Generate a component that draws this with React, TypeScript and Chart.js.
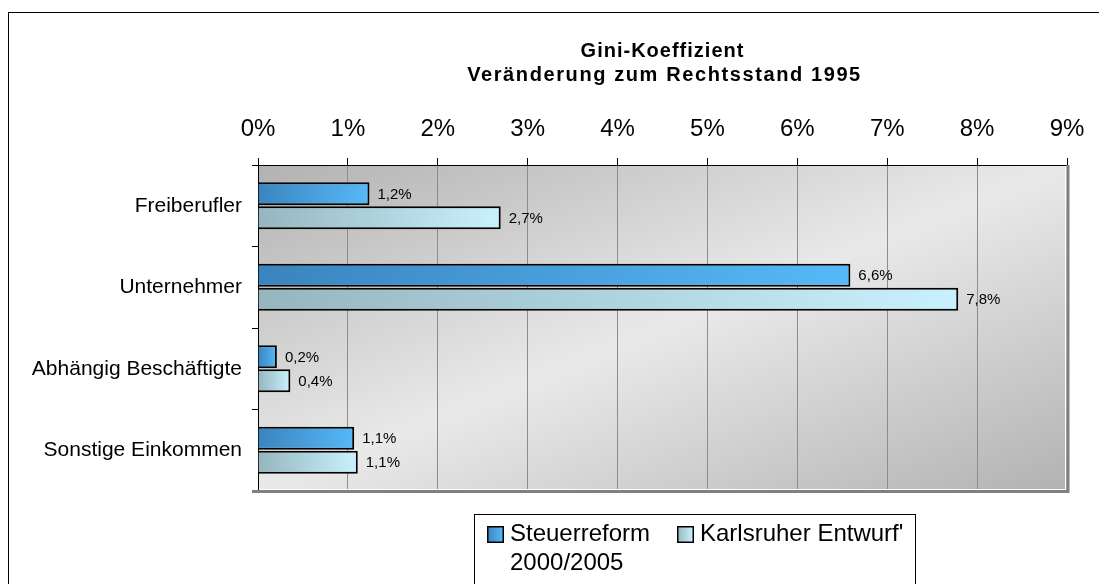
import React, { useEffect, useRef } from "react";
import { Chart, registerables } from "chart.js";

Chart.register(...registerables);

const categories = ["Freiberufler", "Unternehmer", "Abhängig Beschäftigte", "Sonstige Einkommen"];
const steuerreform = [1.24, 6.59, 0.21, 1.07];
const karlsruher = [2.7, 7.79, 0.36, 1.11];
const seriesNames = ["Steuerreform", "Karlsruher Entwurf'"];
const seriesNameLine2 = ["2000/2005", ""];
const titleLines = ["Gini-Koeffizient", "Veränderung zum Rechtsstand 1995"];
const xMin = 0;
const xMax = 9;

const FONT = "'Liberation Sans', Arial, sans-serif";
const darkStops = ["#3a84bf", "#56b9f7"];
const lightStops = ["#95b6bf", "#c9f1fd"];

function barGradient(stops: string[]) {
  return (ctx: any) => {
    const chart = ctx.chart;
    const xs = chart.scales && chart.scales.x;
    if (!chart.chartArea || !xs || typeof ctx.raw !== "number") return stops[1];
    const x0 = xs.getPixelForValue(0);
    const x1 = Math.max(xs.getPixelForValue(ctx.raw), x0 + 1);
    const g = chart.ctx.createLinearGradient(x0, 0, x1, 0);
    g.addColorStop(0, stops[0]);
    g.addColorStop(1, stops[1]);
    return g;
  };
}

const decorPlugin = {
  id: "decor",
  beforeDraw(chart: any) {
    const { ctx, chartArea: a } = chart;
    ctx.save();
    ctx.fillStyle = "#ffffff";
    ctx.fillRect(0, 0, chart.width, chart.height);
    // outer border
    ctx.strokeStyle = "#000";
    ctx.lineWidth = 1;
    ctx.strokeRect(8.5, 12.5, 1300, 1000);
    // plot background diagonal gradient
    const w = a.right - a.left;
    const h = a.bottom - a.top;
    const cx = (a.left + a.right) / 2;
    const cy = (a.top + a.bottom) / 2;
    const k = (w * h) / (w * w + h * h);
    const g = ctx.createLinearGradient(cx - h * k, cy - w * k, cx + h * k, cy + w * k);
    g.addColorStop(0, "#b2b2b2");
    g.addColorStop(0.5, "#e9e9e9");
    g.addColorStop(1, "#b2b2b2");
    ctx.fillStyle = g;
    ctx.fillRect(a.left, a.top, w, h);
    // title
    ctx.fillStyle = "#000";
    ctx.font = `bold 20px ${FONT}`;
    ctx.textAlign = "center";
    ctx.textBaseline = "alphabetic";
    try { (ctx as any).letterSpacing = "1px"; } catch (e) {}
    ctx.fillText(titleLines[0], cx, 57);
    try { (ctx as any).letterSpacing = "1.6px"; } catch (e) {}
    ctx.fillText(titleLines[1], cx + 2, 81);
    try { (ctx as any).letterSpacing = "0px"; } catch (e) {}
    ctx.restore();
  },
  afterDraw(chart: any) {
    const { ctx, chartArea: a } = chart;
    ctx.save();
    // plot shadow border right/bottom
    ctx.strokeStyle = "#ffffff";
    ctx.lineWidth = 1;
    ctx.beginPath();
    ctx.moveTo(a.left + 1, a.bottom - 1.5);
    ctx.lineTo(a.right - 1.5, a.bottom - 1.5);
    ctx.lineTo(a.right - 1.5, a.top + 1);
    ctx.stroke();
    ctx.strokeStyle = "#808080";
    ctx.lineWidth = 3;
    ctx.beginPath();
    ctx.moveTo(a.left - 6, a.bottom + 0.5);
    ctx.lineTo(a.right + 1, a.bottom + 0.5);
    ctx.lineTo(a.right + 1, a.top);
    ctx.stroke();

    // legend
    ctx.strokeStyle = "#000";
    ctx.lineWidth = 1;
    ctx.strokeRect(474.5, 514.5, 441, 200);
    const items = [
      { x: 487, stops: darkStops },
      { x: 677, stops: lightStops },
    ];
    ctx.font = `24px ${FONT}`;
    ctx.textAlign = "left";
    ctx.textBaseline = "alphabetic";
    items.forEach((it, i) => {
      const g = ctx.createLinearGradient(it.x, 0, it.x + 16, 0);
      g.addColorStop(0, it.stops[0]);
      g.addColorStop(1, it.stops[1]);
      ctx.fillStyle = g;
      ctx.fillRect(it.x, 526, 16, 16);
      ctx.strokeStyle = "#000";
      ctx.lineWidth = 1.5;
      ctx.strokeRect(it.x + 0.75, 526.75, 15.5, 15.5);
      ctx.fillStyle = "#000";
      ctx.fillText(seriesNames[i], it.x + 23, 541);
      if (seriesNameLine2[i]) ctx.fillText(seriesNameLine2[i], it.x + 23, 570);
    });
    ctx.restore();
  },
  afterDatasetsDraw(chart: any) {
    const { ctx } = chart;
    ctx.save();
    ctx.font = `15px ${FONT}`;
    ctx.fillStyle = "#000";
    ctx.textAlign = "left";
    ctx.textBaseline = "middle";
    chart.data.datasets.forEach((ds: any, di: number) => {
      const meta = chart.getDatasetMeta(di);
      meta.data.forEach((el: any, i: number) => {
        const v = ds.data[i] as number;
        const txt = v.toFixed(1).replace(".", ",") + "%";
        ctx.fillText(txt, el.x + 8, el.y + 1);
      });
    });
    ctx.restore();
  },
};

export default function App() {
  const ref = useRef<HTMLCanvasElement | null>(null);
  useEffect(() => {
    if (!ref.current) return;
    const chart = new Chart(ref.current, {
      type: "bar",
      data: {
        labels: categories,
        datasets: [
          {
            label: seriesNames[0],
            data: steuerreform,
            backgroundColor: barGradient(darkStops),
            borderColor: "#000",
            borderWidth: 2,
            categoryPercentage: 0.59,
            barPercentage: 0.95,
          },
          {
            label: seriesNames[1],
            data: karlsruher,
            backgroundColor: barGradient(lightStops),
            borderColor: "#000",
            borderWidth: 2,
            categoryPercentage: 0.59,
            barPercentage: 0.95,
          },
        ],
      },
      options: {
        indexAxis: "y",
        responsive: false,
        animation: false,
        layout: { padding: { top: 90, left: 0, right: 32, bottom: 93 } },
        plugins: {
          legend: { display: false },
          title: { display: false },
          tooltip: { enabled: false },
        },
        scales: {
          x: {
            position: "top",
            min: xMin,
            max: xMax,
            afterFit: (s: any) => { s.height = 75; },
            ticks: {
              stepSize: 1,
              color: "#000",
              padding: 14,
              font: { family: FONT, size: 24 },
              callback: (v: any) => v + "%",
            },
            grid: {
              color: "#8c8c8c",
              tickColor: "#000",
              tickLength: 7,
              lineWidth: 1,
            },
            border: { color: "#000", width: 1 },
          },
          y: {
            afterFit: (s: any) => { s.width = 258; },
            ticks: {
              color: "#000",
              padding: 10,
              font: { family: FONT, size: 21 },
            },
            grid: {
              offset: true,
              drawOnChartArea: false,
              color: "#000",
              tickLength: 6,
            },
            border: { color: "#000", width: 1 },
          },
        },
      },
      plugins: [decorPlugin],
    } as any);
    return () => chart.destroy();
  }, []);
  return (
    <canvas
      ref={ref}
      width={1099}
      height={584}
      style={{ position: "fixed", left: 0, top: 0, width: 1099, height: 584, display: "block" }}
    />
  );
}
